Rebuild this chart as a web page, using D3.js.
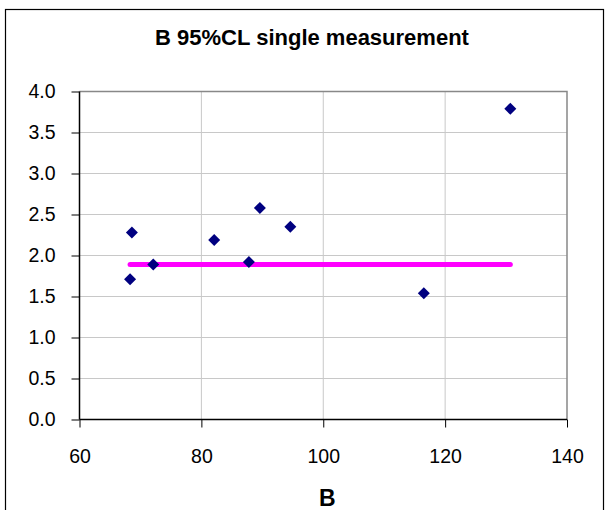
<!DOCTYPE html>
<html>
<head>
<meta charset="utf-8">
<script src="https://cdn.jsdelivr.net/npm/d3@7"></script>
<style>
  body { margin: 0; background: #fff; }
  text { font-family: "Liberation Sans", Arial, sans-serif; }
</style>
</head>
<body>
<div id="chart"></div>
<script>
// B values (x) and the single measurement 95%CL (y)
const bValues = [68.6, 68.3, 72.1, 82.1, 87.8, 89.6, 94.6, 116.5, 130.7];
const clValues = [2.28, 1.71, 1.89, 2.19, 1.92, 2.58, 2.35, 1.54, 3.79];

// flat reference line
const lineB = [68.3, 130.7];
const lineCL = [1.89, 1.89];

const xTicks = [60, 80, 100, 120, 140];
const yTicks = [0, 0.5, 1, 1.5, 2, 2.5, 3, 3.5, 4];

function drawChart() {
  const width = 605;
  const height = 510;
  const margin = { left: 79.5, right: 38, top: 91.5, bottom: 90.5 };

  const svg = d3
    .select("#chart")
    .append("svg")
    .attr("width", width)
    .attr("height", height);

  // outer chart border
  svg
    .append("rect")
    .attr("x", 5.5)
    .attr("y", 9.5)
    .attr("width", 598)
    .attr("height", 520)
    .attr("fill", "none")
    .attr("stroke", "#000")
    .attr("stroke-width", 1.2);

  const x = d3
    .scaleLinear()
    .domain([60, 140])
    .range([margin.left, width - margin.right]);
  const y = d3
    .scaleLinear()
    .domain([0, 4])
    .range([height - margin.bottom, margin.top]);

  // gridlines
  svg
    .append("g")
    .attr("stroke", "#c8c8c8")
    .attr("stroke-width", 1)
    .selectAll("line.v")
    .data(xTicks.slice(1, -1))
    .join("line")
    .attr("x1", (d) => x(d))
    .attr("x2", (d) => x(d))
    .attr("y1", y(0))
    .attr("y2", y(4));
  svg
    .append("g")
    .attr("stroke", "#c8c8c8")
    .attr("stroke-width", 1)
    .selectAll("line.h")
    .data(yTicks.slice(1, -1))
    .join("line")
    .attr("x1", x(60))
    .attr("x2", x(140))
    .attr("y1", (d) => y(d))
    .attr("y2", (d) => y(d));

  // top and right frame in gray
  svg
    .append("path")
    .attr("d", `M${x(60)},${y(4)}H${x(140)}V${y(0)}`)
    .attr("fill", "none")
    .attr("stroke", "#888")
    .attr("stroke-width", 1.5);

  // axes
  const xAxis = svg
    .append("g")
    .attr("transform", `translate(0,${y(0)})`)
    .call(d3.axisBottom(x).tickValues(xTicks).tickSize(8).tickPadding(22));
  const yAxis = svg
    .append("g")
    .attr("transform", `translate(${x(60)},0)`)
    .call(
      d3
        .axisLeft(y)
        .tickValues(yTicks)
        .tickSize(8)
        .tickPadding(16)
        .tickFormat(d3.format(".1f"))
    );
  [xAxis, yAxis].forEach((g) => {
    g.select(".domain").attr("stroke", "#000").attr("stroke-width", 1.5);
    g.selectAll(".tick line").attr("stroke", "#000");
    g.selectAll(".tick text")
      .attr("fill", "#000")
      .style("font-size", "19.5px")
      .style("font-family", '"Liberation Sans", Arial, sans-serif');
  });
  // domain path draws outer ticks; replace with plain lines
  xAxis.select(".domain").attr("d", `M${x(60)},0H${x(140)}`);
  yAxis.select(".domain").attr("d", `M0,${y(0)}V${y(4)}`);
  yAxis.selectAll(".tick text").attr("x", -24);

  // magenta reference line
  const line = d3
    .line()
    .x((d, i) => x(lineB[i]))
    .y((d) => y(d));
  svg
    .append("path")
    .datum(lineCL)
    .attr("d", line)
    .attr("fill", "none")
    .attr("stroke", "#ff00ff")
    .attr("stroke-width", 5)
    .attr("stroke-linecap", "round");

  // diamond markers
  const diamond = d3.symbol().type(d3.symbolSquare).size(72);
  svg
    .append("g")
    .selectAll("path")
    .data(bValues)
    .join("path")
    .attr("d", diamond)
    .attr(
      "transform",
      (d, i) => `translate(${x(d)},${y(clValues[i])}) rotate(45)`
    )
    .attr("fill", "#000080");

  // titles
  svg
    .append("text")
    .attr("x", 312)
    .attr("y", 45)
    .attr("text-anchor", "middle")
    .style("font-size", "22px")
    .style("font-weight", "bold")
    .text("B 95%CL single measurement");

  svg
    .append("text")
    .attr("x", (x(60) + x(140)) / 2 + 4)
    .attr("y", 506)
    .attr("text-anchor", "middle")
    .style("font-size", "23px")
    .style("font-weight", "bold")
    .text("B");
}

window.onload = function () {
  drawChart();
};
</script>
</body>
</html>
